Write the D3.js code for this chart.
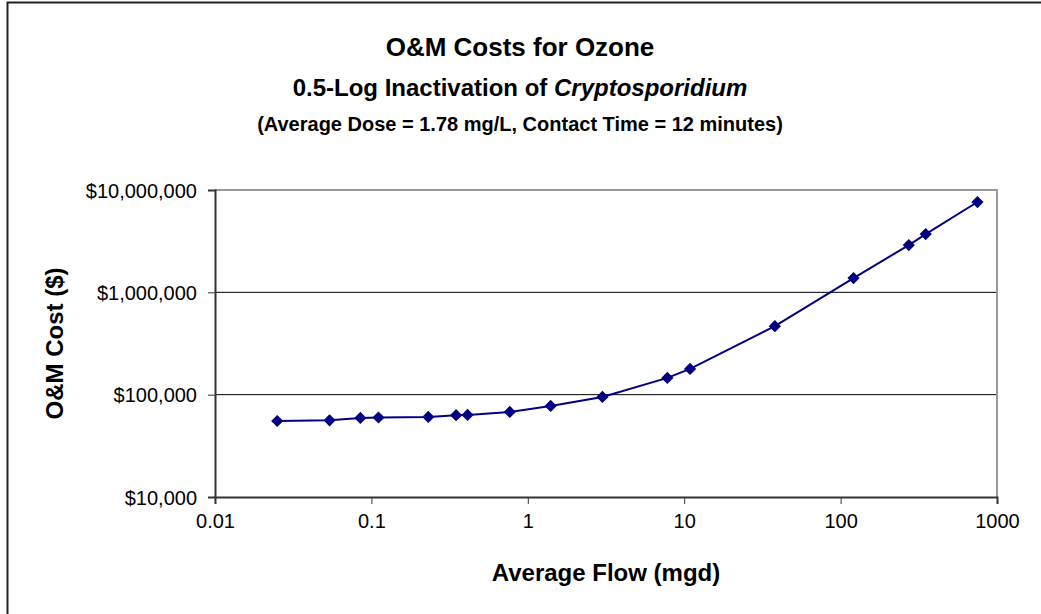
<!DOCTYPE html>
<html>
<head>
<meta charset="utf-8">
<script src="https://cdn.jsdelivr.net/npm/d3@7"></script>
<style>
  body { margin: 0; background: #fff; }
  text { font-family: Arial, "Liberation Sans", sans-serif; fill: #000; }
</style>
</head>
<body>
<div id="chart"></div>
<script>
// flow (mgd) and O&M cost ($)
const flows = [0.025, 0.054, 0.085, 0.111, 0.231, 0.348, 0.412, 0.767, 1.4, 3.0, 7.8, 10.9, 38, 121, 273, 350, 750]
const costs = [55300, 56200, 59300, 59800, 60600, 63000, 63400, 67800, 77600, 95100, 145800, 178600, 467000, 1378000, 2898000, 3711000, 7630000]
const xTicks = [0.01, 0.1, 1, 10, 100, 1000]
const yTicks = [10000, 100000, 1000000, 10000000]
const titleLines = ["O&M Costs for Ozone", "0.5-Log Inactivation of ", "(Average Dose = 1.78 mg/L, Contact Time = 12 minutes)"]

const width = 1041
const height = 614
const plot = { left: 215, right: 997, top: 190, bottom: 497 }

let svg = d3.select("#chart").append("svg")
    .attr("width", width)
    .attr("height", height)

// outer chart border (only left and top visible)
svg.append("rect")
    .attr("x", 7.5).attr("y", 2.5)
    .attr("width", width + 20).attr("height", height + 20)
    .style("fill", "none")
    .style("stroke", "#222")
    .style("stroke-width", 2)

let x = d3.scaleLog().domain([0.01, 1000]).range([plot.left, plot.right])
let y = d3.scaleLog().domain([10000, 10000000]).range([plot.bottom, plot.top])

// gridlines
svg.append("g")
    .selectAll("line")
    .data(yTicks.slice(1, -1))
    .enter()
    .append("line")
    .attr("x1", plot.left).attr("x2", plot.right)
    .attr("y1", d => y(d)).attr("y2", d => y(d))
    .style("stroke", "#000")
    .style("stroke-width", 1)

// plot area frame: gray top / right
svg.append("path")
    .attr("d", `M${plot.left},${plot.top}H${plot.right}V${plot.bottom}`)
    .style("fill", "none")
    .style("stroke", "#999")
    .style("stroke-width", 2)

let fmt = d3.format("$,")

let xAxis = svg.append("g")
    .attr("transform", `translate(0,${plot.bottom})`)
    .call(d3.axisBottom(x).tickValues(xTicks).tickFormat(d => String(d)).tickSize(7).tickPadding(10))
let yAxis = svg.append("g")
    .attr("transform", `translate(${plot.left},0)`)
    .call(d3.axisLeft(y).tickValues(yTicks).tickFormat(fmt).tickSize(7).tickPadding(11))

;[xAxis, yAxis].forEach(function (a) {
    a.select(".domain").style("stroke", "#333").style("stroke-width", 2)
    a.selectAll(".tick line").style("stroke", "#333")
    a.selectAll("text").style("font-size", "20px").style("font-family", "Arial, 'Liberation Sans', sans-serif")
})
yAxis.selectAll(".tick text").attr("dy", "0.35em")

// the series
let line = d3.line()
    .x((d, i) => x(flows[i]))
    .y(d => y(d))

svg.append("path")
    .datum(costs)
    .attr("d", line)
    .style("fill", "none")
    .style("stroke", "#000080")
    .style("stroke-width", 2)

svg.selectAll("path.marker")
    .data(costs)
    .enter()
    .append("path")
    .attr("class", "marker")
    .attr("d", d3.symbol().type(d3.symbolDiamond2).size(95))
    .attr("transform", (d, i) => `translate(${x(flows[i])},${y(d)})`)
    .style("fill", "#000080")

// titles
let title = svg.append("text")
    .attr("text-anchor", "middle")
    .style("font-weight", "bold")
title.append("tspan").attr("x", 520).attr("y", 56).style("font-size", "26px").text(titleLines[0])
title.append("tspan").attr("x", 520).attr("y", 96).style("font-size", "24px").text(titleLines[1])
title.append("tspan").style("font-size", "24px").style("font-style", "italic").text("Cryptosporidium")
title.append("tspan").attr("x", 520).attr("y", 131).style("font-size", "20px").text(titleLines[2])

svg.append("text")
    .attr("x", (plot.left + plot.right) / 2)
    .attr("y", 581)
    .attr("text-anchor", "middle")
    .style("font-size", "24px")
    .style("font-weight", "bold")
    .text("Average Flow (mgd)")

svg.append("text")
    .attr("transform", `translate(63,${(plot.top + plot.bottom) / 2}) rotate(-90)`)
    .attr("text-anchor", "middle")
    .style("font-size", "24px")
    .style("font-weight", "bold")
    .text("O&M Cost ($)")
</script>
</body>
</html>
